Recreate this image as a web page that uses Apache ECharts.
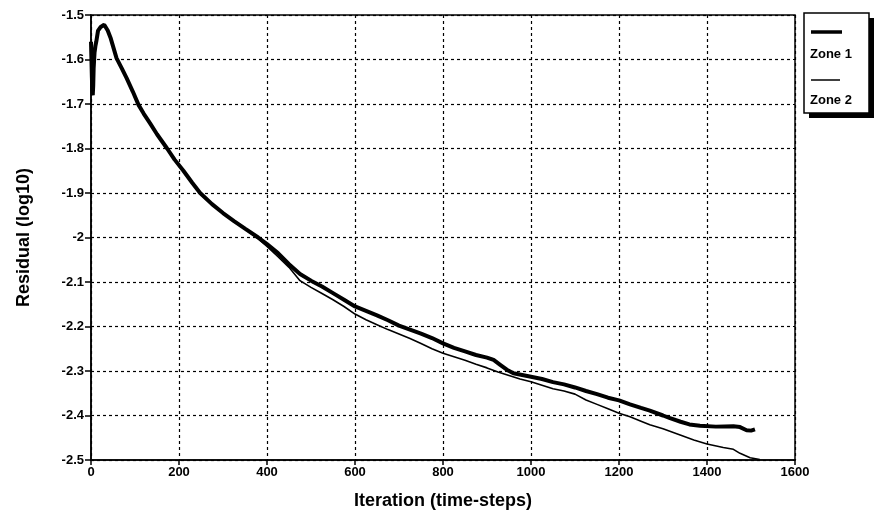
<!DOCTYPE html>
<html>
<head>
<meta charset="utf-8">
<script src="https://cdn.jsdelivr.net/npm/echarts@6/dist/echarts.min.js"></script>
<style>
html,body{margin:0;padding:0;background:#fff;}
#chart{width:875px;height:521px;}
</style>
</head>
<body>
<div id="chart"></div>
<script>
// tick labels
var xTicks = [0, 200, 400, 600, 800, 1000, 1200, 1400, 1600];
var yTicks = [-2.5, -2.4, -2.3, -2.2, -2.1, -2, -1.9, -1.8, -1.7, -1.6, -1.5];
var seriesNames = ['Zone 1', 'Zone 2'];

// shared early history (both zones coincide)
var commonHead = [
  [0,-1.56],[1,-1.60],[2,-1.64],[3,-1.67],[4,-1.68],[5,-1.66],[6,-1.62],[8,-1.585],
  [10,-1.57],[12,-1.56],[16,-1.535],[22,-1.527],[30,-1.522],[38,-1.535],[45,-1.553],
  [58,-1.597],[70,-1.62],[81,-1.642],[95,-1.672],[108,-1.702],[120,-1.722],[134,-1.743],
  [150,-1.768],[173,-1.80],[190,-1.825],[210,-1.85],[230,-1.877],[248,-1.90],[275,-1.925],
  [300,-1.945],[325,-1.963],[350,-1.98]
];

var zone1Tail = [
  [380,-2.0],[400,-2.015],[425,-2.035],[450,-2.06],[475,-2.082],[500,-2.097],[525,-2.11],
  [550,-2.125],[575,-2.14],[600,-2.155],[625,-2.165],[650,-2.175],[675,-2.186],[700,-2.198],
  [725,-2.207],[750,-2.216],[775,-2.226],[800,-2.238],[825,-2.248],[850,-2.256],[875,-2.264],
  [900,-2.27],[915,-2.275],[930,-2.286],[945,-2.297],[960,-2.305],[980,-2.309],[1000,-2.313],
  [1025,-2.318],[1050,-2.325],[1075,-2.33],[1100,-2.337],[1125,-2.345],[1150,-2.352],
  [1175,-2.36],[1200,-2.366],[1225,-2.375],[1250,-2.383],[1270,-2.389],[1300,-2.40],
  [1316,-2.406],[1340,-2.414],[1360,-2.42],[1384,-2.423],[1420,-2.425],[1460,-2.424],
  [1475,-2.426],[1490,-2.433],[1500,-2.434],[1509,-2.431]
];

var zone2Tail = [
  [380,-2.003],[400,-2.02],[425,-2.043],[450,-2.067],[475,-2.097],[500,-2.112],[525,-2.126],
  [550,-2.14],[575,-2.155],[600,-2.172],[625,-2.185],[650,-2.196],[675,-2.207],[700,-2.217],
  [725,-2.227],[750,-2.238],[775,-2.25],[800,-2.26],[825,-2.268],[850,-2.276],[875,-2.285],
  [900,-2.293],[925,-2.302],[950,-2.31],[975,-2.318],[1000,-2.324],[1025,-2.332],[1050,-2.34],
  [1075,-2.345],[1100,-2.352],[1125,-2.365],[1150,-2.375],[1175,-2.385],[1200,-2.395],
  [1225,-2.403],[1250,-2.413],[1270,-2.421],[1300,-2.43],[1339,-2.444],[1370,-2.455],
  [1400,-2.464],[1437,-2.472],[1460,-2.476],[1475,-2.485],[1498,-2.495],[1520,-2.499]
];

var zone1 = commonHead.concat(zone1Tail);
var zone2 = commonHead.concat(zone2Tail);

var FONT = '"Liberation Sans", Arial, sans-serif';
var chart = echarts.init(document.getElementById('chart'), null, {renderer: 'canvas'});

var option = {
  animation: false,
  backgroundColor: '#fff',
  grid: {
    left: 91, top: 15, right: 80, bottom: 61,
    show: true, borderColor: '#000', borderWidth: 1.5
  },
  xAxis: {
    type: 'value', min: xTicks[0], max: xTicks[xTicks.length - 1], interval: 200,
    name: 'Iteration (time-steps)', nameLocation: 'middle', nameGap: 32,
    nameTextStyle: {fontFamily: FONT, fontSize: 18, fontWeight: 'bold', color: '#000'},
    axisLine: {show: true, onZero: false, lineStyle: {color: '#000', width: 1.5}},
    axisTick: {show: true, inside: false, length: 5, lineStyle: {color: '#000', width: 1.5}},
    axisLabel: {fontFamily: FONT, fontSize: 13, fontWeight: 'bold', color: '#000', margin: 6,
      formatter: function (v) { return String(Math.round(v)); }},
    splitLine: {show: true, lineStyle: {color: '#000', type: [3, 3], width: 1.2}}
  },
  yAxis: {
    type: 'value', min: yTicks[0], max: yTicks[yTicks.length - 1], interval: 0.1,
    name: 'Residual (log10)', nameLocation: 'middle', nameGap: 58,
    nameTextStyle: {fontFamily: FONT, fontSize: 18, fontWeight: 'bold', color: '#000'},
    axisLine: {show: true, onZero: false, lineStyle: {color: '#000', width: 1.5}},
    axisTick: {show: true, inside: false, length: 6, lineStyle: {color: '#000', width: 1.5}},
    axisLabel: {fontFamily: FONT, fontSize: 13, fontWeight: 'bold', color: '#000', margin: 7,
      formatter: function (v) { return String(Math.round(v * 10) / 10); }},
    splitLine: {show: true, lineStyle: {color: '#000', type: [3, 3], width: 1.2}}
  },
  series: [
    {name: seriesNames[0], type: 'line', data: zone1, showSymbol: false, symbol: 'none',
     lineStyle: {color: '#000', width: 4}, z: 3},
    {name: seriesNames[1], type: 'line', data: zone2, showSymbol: false, symbol: 'none',
     lineStyle: {color: '#000', width: 1.6}, z: 2}
  ],
  graphic: [
    {type: 'rect', shape: {x: 809, y: 18, width: 65, height: 100}, style: {fill: '#000'}, z: 10},
    {type: 'rect', shape: {x: 804, y: 13, width: 65, height: 100},
     style: {fill: '#fff', stroke: '#000', lineWidth: 1.5}, z: 11},
    {type: 'line', shape: {x1: 811, y1: 32, x2: 842, y2: 32}, style: {stroke: '#000', lineWidth: 3.5}, z: 12},
    {type: 'text', x: 810, y: 54, style: {text: seriesNames[0], fontFamily: FONT, fontSize: 13,
      fontWeight: 'bold', fill: '#000', verticalAlign: 'middle'}, z: 12},
    {type: 'line', shape: {x1: 811, y1: 80, x2: 840, y2: 80}, style: {stroke: '#000', lineWidth: 1.5}, z: 12},
    {type: 'text', x: 810, y: 100, style: {text: seriesNames[1], fontFamily: FONT, fontSize: 13,
      fontWeight: 'bold', fill: '#000', verticalAlign: 'middle'}, z: 12}
  ]
};
chart.setOption(option);
</script>
</body>
</html>
